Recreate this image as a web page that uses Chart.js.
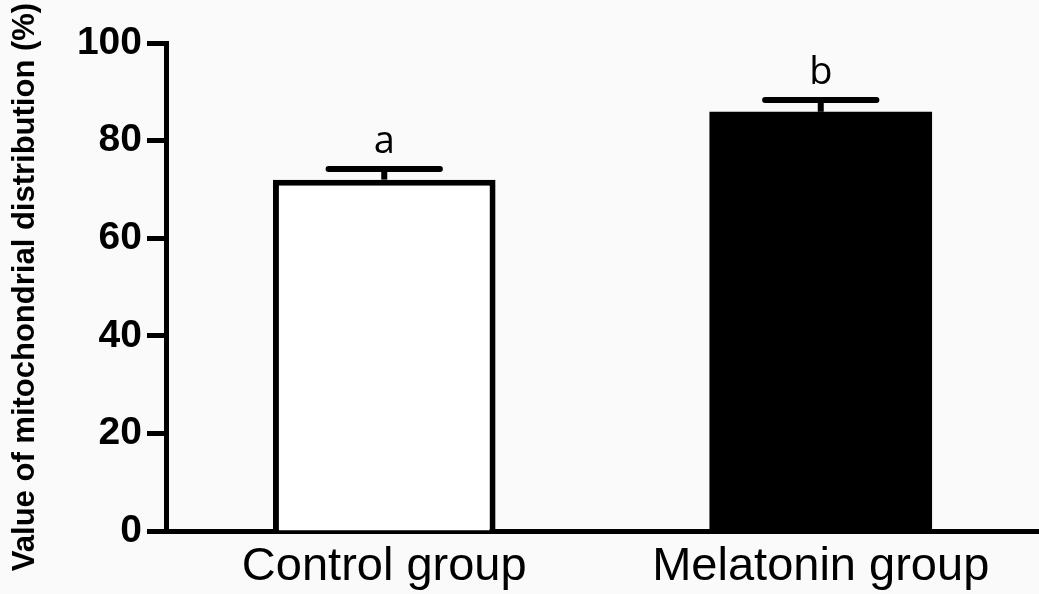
<!DOCTYPE html>
<html>
<head>
<meta charset="utf-8">
<script src="https://cdn.jsdelivr.net/npm/chart.js@4.4.1/dist/chart.umd.min.js"></script>
<style>
  html, body { margin: 0; padding: 0; background: #fafafa; }
  #wrap { width: 1039px; height: 594px; }
</style>
</head>
<body>
<div id="wrap"><canvas id="chart" width="1039" height="594"></canvas></div>
<script>
const categories = ['Control group', 'Melatonin group'];
const means = [72.0, 85.9];
const errors = [2.2, 2.4];
const letters = ['a', 'b'];
const yTicks = [0, 20, 40, 60, 80, 100];
const barFills = ['#ffffff', '#000000'];

// mean + error cap, with the significance letter above it
const errorBars = {
  id: 'errorBars',
  afterDatasetsDraw(chart) {
    const ctx = chart.ctx;
    const y = chart.scales.y;
    const meta = chart.getDatasetMeta(0);
    meta.data.forEach((bar, i) => {
      const top = y.getPixelForValue(means[i] + errors[i]);
      const half = bar.width / 4;
      ctx.save();
      ctx.strokeStyle = '#000';
      ctx.lineWidth = 6;
      ctx.beginPath();
      ctx.moveTo(bar.x, bar.y);
      ctx.lineTo(bar.x, top);
      ctx.stroke();
      ctx.lineCap = 'round';
      ctx.beginPath();
      ctx.moveTo(bar.x - half, top);
      ctx.lineTo(bar.x + half, top);
      ctx.stroke();
      ctx.fillStyle = '#000';
      ctx.font = '38px "Open Sans", sans-serif';
      ctx.textAlign = 'center';
      ctx.textBaseline = 'alphabetic';
      ctx.fillText(letters[i], bar.x, top - 16);
      ctx.restore();
    });
  }
};

const background = {
  id: 'background',
  beforeDraw(chart) {
    const ctx = chart.ctx;
    ctx.save();
    ctx.fillStyle = '#fafafa';
    ctx.fillRect(0, 0, chart.width, chart.height);
    ctx.restore();
  }
};

new Chart(document.getElementById('chart').getContext('2d'), {
  type: 'bar',
  data: {
    labels: categories,
    datasets: [{
      data: means,
      backgroundColor: barFills,
      borderColor: '#000',
      borderWidth: [6, 0],
      borderSkipped: 'start',
      categoryPercentage: 1,
      barPercentage: 0.51
    }]
  },
  options: {
    responsive: false,
    animation: false,
    layout: { padding: { top: 43, right: 0, left: 0, bottom: 0 } },
    plugins: {
      legend: { display: false },
      tooltip: { enabled: false }
    },
    scales: {
      x: {
        afterFit: s => { s.height = 63; },
        grid: { display: true, drawOnChartArea: false, drawTicks: false },
        border: { display: true, color: '#000', width: 5 },
        ticks: {
          color: '#000',
          padding: 8,
          font: { family: '"Liberation Sans", Arial, sans-serif', size: 47 }
        }
      },
      y: {
        min: 0,
        max: 100,
        afterFit: s => { s.width = 166; },
        afterBuildTicks: s => { s.ticks = yTicks.map(v => ({ value: v })); },
        grid: { drawOnChartArea: false, drawTicks: true, tickLength: 19, tickWidth: 5, tickColor: '#000' },
        border: { display: true, color: '#000', width: 5 },
        ticks: {
          color: '#000',
          padding: 5,
          font: { family: '"Liberation Sans", Arial, sans-serif', size: 39, weight: 'bold' }
        },
        title: {
          display: true,
          text: 'Value of mitochondrial distribution (%)',
          color: '#000',
          padding: { top: 7, bottom: 0 },
          font: { family: '"Liberation Sans", Arial, sans-serif', size: 31, weight: 'bold', lineHeight: 1.2 }
        }
      }
    }
  },
  plugins: [background, errorBars]
});
</script>
</body>
</html>
